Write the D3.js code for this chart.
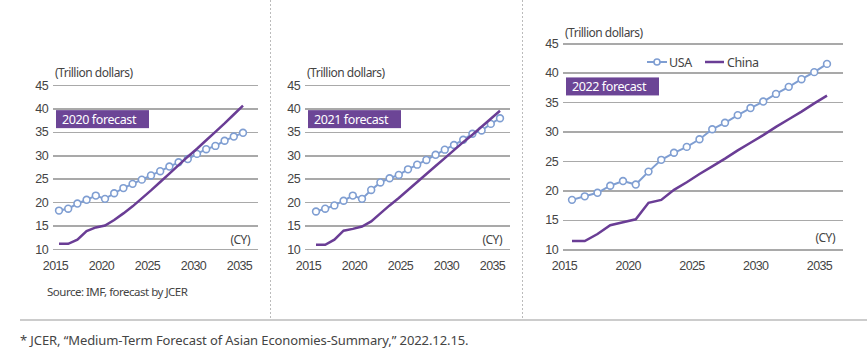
<!DOCTYPE html>
<html>
<head>
<meta charset="utf-8">
<title>USA vs China GDP forecasts</title>
<script src="https://cdn.jsdelivr.net/npm/d3@7"></script>
<style>
    body { margin: 0; background: #fff; }
    svg { font-family: "Noto Sans", sans-serif; }
    .tick text { fill: #444; font-size: 12.5px; letter-spacing: -0.6px; }
    .yaxis .tick line { stroke: #a9a9a9; stroke-width: 1.5; shape-rendering: crispEdges; }
    .domain { display: none; }
    .usa { fill: none; stroke: #7f9ed2; stroke-width: 2; }
    .china { fill: none; stroke: #6a3d95; stroke-width: 2.5; }
    .dot { fill: #fff; stroke: #7f9ed2; stroke-width: 1.6; }
    .note { fill: #444; font-size: 12px; letter-spacing: -0.5px; }
</style>
</head>
<body>
<svg id="chart" width="867" height="359"></svg>
<script>
const years = [2015, 2016, 2017, 2018, 2019, 2020, 2021, 2022, 2023, 2024, 2025,
               2026, 2027, 2028, 2029, 2030, 2031, 2032, 2033, 2034, 2035];
const xTicks = [2015, 2020, 2025, 2030, 2035];
const yTicks = [10, 15, 20, 25, 30, 35, 40, 45];

// 2020 forecast
const usa2020 = [18.2, 18.6, 19.7, 20.5, 21.4, 20.7, 21.9, 23.0, 23.9, 24.8, 25.7,
                 26.6, 27.6, 28.5, 29.2, 30.3, 31.3, 32.0, 33.1, 34.0, 34.8];
const china2020 = [11.1, 11.1, 12.0, 13.8, 14.6, 15.0, 16.2, 17.6, 19.1, 20.8, 22.5,
                   24.3, 26.1, 27.9, 29.7, 31.4, 33.2, 35.0, 36.8, 38.7, 40.6];
// 2021 forecast
const usa2021 = [18.0, 18.6, 19.3, 20.3, 21.4, 20.7, 22.6, 24.2, 25.1, 25.8, 27.0,
                 28.0, 29.0, 30.1, 31.2, 32.2, 33.3, 34.6, 35.3, 36.7, 37.9];
const china2021 = [10.9, 10.9, 12.0, 13.9, 14.3, 14.8, 15.9, 17.6, 19.3, 20.9, 22.6,
                   24.3, 26.0, 27.7, 29.4, 31.1, 32.8, 34.4, 36.1, 37.8, 39.5];
// 2022 forecast
const usa2022 = [18.4, 19.0, 19.6, 20.8, 21.6, 21.0, 23.2, 25.2, 26.4, 27.4, 28.7,
                 30.4, 31.5, 32.8, 34.0, 35.1, 36.4, 37.6, 38.9, 40.1, 41.5];
const china2022 = [11.4, 11.4, 12.6, 14.1, 14.6, 15.1, 17.9, 18.4, 20.1, 21.4, 22.8,
                   24.1, 25.4, 26.8, 28.1, 29.4, 30.8, 32.1, 33.4, 34.8, 36.1];

const panelLabels = ['2020 forecast', '2021 forecast', '2022 forecast'];
const seriesNames = ['USA', 'China'];

const svg = d3.select('#chart');

// layout per panel
const panels = [
    { usa: usa2020, china: china2020, label: panelLabels[0],
      gx0: 53, gx1: 258, px0: 59, px1: 243, shift: -4, yTop: 85, yBot: 249, unitY: 73, legend: false },
    { usa: usa2021, china: china2021, label: panelLabels[1],
      gx0: 305, gx1: 510, px0: 316, px1: 500, shift: -8, yTop: 85, yBot: 249, unitY: 73, legend: false },
    { usa: usa2022, china: china2022, label: panelLabels[2],
      gx0: 563, gx1: 843, px0: 572, px1: 827, shift: -8, yTop: 43.3, yBot: 249.3, unitY: 33, legend: true },
];

panels.forEach(function(p) {
    let g = svg.append('g');
    let x = d3.scaleLinear().domain([2015, 2035]).range([p.px0, p.px1]);
    let xl = d3.scaleLinear().domain([2015, 2035]).range([p.px0 + p.shift, p.px1 + p.shift]);
    let y = d3.scaleLinear().domain([10, 45]).range([p.yBot, p.yTop]);

    g.append('g')
        .classed('yaxis', true)
        .attr('transform', 'translate(' + p.gx0 + ',0)')
        .call(d3.axisLeft(y).tickValues(yTicks).tickSize(-(p.gx1 - p.gx0)).tickPadding(5));
    g.selectAll('.yaxis .tick text').attr('x', -5);

    g.append('g')
        .attr('transform', 'translate(0,' + (p.yBot + 9) + ')')
        .call(d3.axisBottom(xl).tickValues(xTicks).tickFormat(d3.format('d')).tickSize(0).tickPadding(3));

    g.append('text').attr('class', 'note')
        .attr('x', p.gx0 + 2).attr('y', p.unitY + 4)
        .text('(Trillion dollars)');
    g.append('text').attr('class', 'note')
        .attr('x', p.gx1 - 8).attr('y', y(12) + 4).attr('text-anchor', 'end')
        .text('(CY)');

    // forecast box
    let bx = p.gx0 + 3, by = y(37.5) - 10;
    g.append('rect').attr('x', bx).attr('y', by).attr('width', 93).attr('height', 18)
        .attr('fill', '#6c4596');
    g.append('text').attr('x', bx + 6).attr('y', by + 13.5)
        .attr('fill', '#fff').style('font-size', '12.5px').style('letter-spacing', '-0.4px')
        .text(p.label);

    let line = d3.line().x(function(d, i) { return x(years[i]); }).y(function(d) { return y(d); });

    g.append('path').classed('usa', true).attr('d', line(p.usa));
    g.selectAll('circle.dot').data(p.usa).enter()
        .append('circle').classed('dot', true)
        .attr('cx', function(d, i) { return x(years[i]); })
        .attr('cy', function(d) { return y(d); })
        .attr('r', 3.4);
    g.append('path').classed('china', true).attr('d', line(p.china));

    if (p.legend) {
        let ly = 62;
        let lg = g.append('g');
        lg.append('line').attr('x1', 647).attr('x2', 667).attr('y1', ly).attr('y2', ly)
            .attr('stroke', '#7f9ed2').attr('stroke-width', 2);
        lg.append('circle').classed('dot', true).attr('cx', 657).attr('cy', ly).attr('r', 3);
        lg.append('text').attr('x', 669).attr('y', ly + 4.5).attr('fill', '#444')
            .style('font-size', '12.5px').style('letter-spacing', '-0.4px').text(seriesNames[0]);
        lg.append('line').attr('x1', 705).attr('x2', 724).attr('y1', ly).attr('y2', ly)
            .attr('stroke', '#6a3d95').attr('stroke-width', 2.5);
        lg.append('text').attr('x', 727).attr('y', ly + 4.5).attr('fill', '#444')
            .style('font-size', '12.5px').style('letter-spacing', '-0.4px').text(seriesNames[1]);
    }
});

svg.append('text').attr('class', 'note')
    .attr('x', 47).attr('y', 296).style('font-size', '11.5px')
    .text('Source: IMF, forecast by JCER');

// dividers
[270.5, 522.5].forEach(function(xx) {
    svg.append('line').attr('x1', xx).attr('x2', xx).attr('y1', 0).attr('y2', 318)
        .attr('stroke', '#bbb').attr('stroke-dasharray', '2,2');
});
svg.append('line').attr('x1', 20).attr('x2', 867).attr('y1', 320).attr('y2', 320)
    .attr('stroke', '#ccc').attr('stroke-width', 2);

svg.append('text').attr('class', 'note')
    .attr('x', 20).attr('y', 345).style('font-size', '13px').style('letter-spacing', '-0.1px')
    .text('* JCER, \u201cMedium-Term Forecast of Asian Economies-Summary,\u201d 2022.12.15.');
</script>
</body>
</html>
